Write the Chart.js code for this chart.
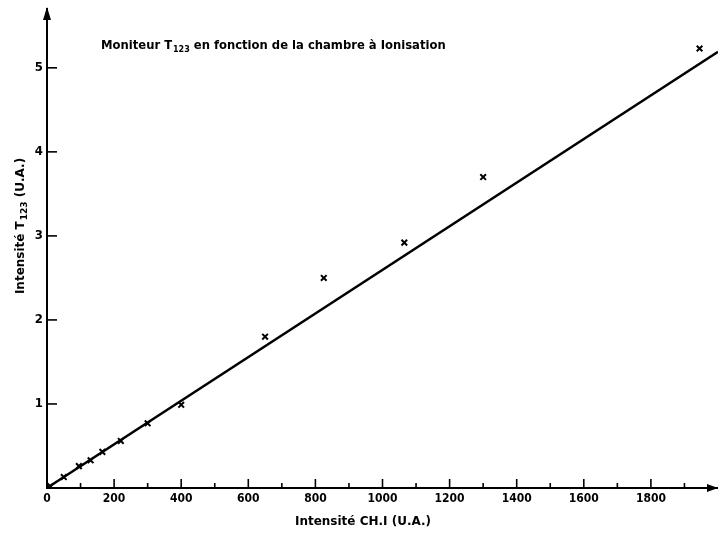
<!DOCTYPE html>
<html><head><meta charset="utf-8">
<script src="https://cdn.jsdelivr.net/npm/chart.js@4/dist/chart.umd.min.js"></script>
<style>html,body{margin:0;padding:0;background:#fff}#wrap{width:718px;height:536px;position:relative}</style>
</head><body><div id="wrap"><canvas id="c"></canvas></div>
<script>
// ---- data ----
const chIntensity   = [10, 50, 95, 130, 165, 220, 300, 400, 650, 825, 1065, 1300, 1945];
const t123Intensity = [0.02, 0.13, 0.26, 0.33, 0.43, 0.56, 0.77, 0.99, 1.80, 2.50, 2.92, 3.70, 5.23];
const fitX = [0, 2000];
const fitY = [0, 5.19];
const xTickLabels = ['0', '200', '400', '600', '800', '1000', '1200', '1400', '1600', '1800'];
const yTickLabels = ['1', '2', '3', '4', '5'];
const titleParts  = ['Moniteur T', '123', ' en fonction de la chambre à Ionisation'];
const xTitleText  = 'Intensité CH.I (U.A.)';
const yTitleParts = ['Intensité T', '123', ' (U.A.)'];

const FONT = '"DejaVu Sans", sans-serif';
const TICKFONT = '"DejaVu Sans Condensed", "DejaVu Sans", sans-serif';

function drawSubText(ctx, parts, x, y, size, weight) {
  ctx.font = weight + ' ' + size + 'px ' + FONT;
  ctx.fillText(parts[0], x, y);
  x += ctx.measureText(parts[0]).width + 1;
  ctx.font = weight + ' ' + Math.round(size * 0.72) + 'px ' + FONT;
  ctx.fillText(parts[1], x, y + 3);
  x += ctx.measureText(parts[1]).width;
  ctx.font = weight + ' ' + size + 'px ' + FONT;
  ctx.fillText(parts[2], x, y);
}
function subTextWidth(ctx, parts, size, weight) {
  ctx.font = weight + ' ' + size + 'px ' + FONT;
  let w = ctx.measureText(parts[0]).width + ctx.measureText(parts[2]).width + 1;
  ctx.font = weight + ' ' + Math.round(size * 0.72) + 'px ' + FONT;
  return w + ctx.measureText(parts[1]).width;
}

const decor = {
  id: 'decor',
  afterDraw(chart) {
    const ctx = chart.ctx, xs = chart.scales.x, ys = chart.scales.y, a = chart.chartArea;
    ctx.save();
    ctx.strokeStyle = '#000'; ctx.fillStyle = '#000'; ctx.lineWidth = 1.6;
    // tick marks (inside the axes)
    xs.ticks.forEach(t => {
      if (t.value <= 0 || t.value >= xs.max) return;
      const px = xs.getPixelForValue(t.value);
      const len = (t.value % 200 === 0) ? 9 : 5;
      ctx.beginPath(); ctx.moveTo(px, a.bottom); ctx.lineTo(px, a.bottom - len); ctx.stroke();
    });
    ys.ticks.forEach(t => {
      if (t.value <= 0 || !yTickLabels.includes(String(t.value))) return;
      const py = ys.getPixelForValue(t.value);
      ctx.beginPath(); ctx.moveTo(a.left, py); ctx.lineTo(a.left + 10, py); ctx.stroke();
    });
    // arrow heads
    ctx.beginPath();
    ctx.moveTo(a.left, a.top - 2); ctx.lineTo(a.left - 4, a.top + 11); ctx.lineTo(a.left + 4, a.top + 11); ctx.closePath(); ctx.fill();
    ctx.beginPath();
    ctx.moveTo(a.right, a.bottom); ctx.lineTo(a.right - 11, a.bottom - 4); ctx.lineTo(a.right - 11, a.bottom + 4); ctx.closePath(); ctx.fill();
    // title
    ctx.textAlign = 'left'; ctx.textBaseline = 'alphabetic';
    drawSubText(ctx, titleParts, 101, 49, 11.6, 'bold');
    // x axis title
    ctx.font = 'bold 12px ' + FONT;
    ctx.textAlign = 'center'; ctx.textBaseline = 'middle';
    ctx.fillText(xTitleText, 363, 522);
    // y axis title
    ctx.translate(20, 226);
    ctx.rotate(-Math.PI / 2);
    const w = subTextWidth(ctx, yTitleParts, 12, 'bold');
    ctx.textAlign = 'left'; ctx.textBaseline = 'alphabetic';
    drawSubText(ctx, yTitleParts, -w / 2, 4, 12, 'bold');
    ctx.restore();
  }
};

function noPad(s) { s.paddingLeft = 0; s.paddingRight = 0; s.paddingTop = 0; s.paddingBottom = 0; }

new Chart(document.getElementById('c'), {
  type: 'scatter',
  data: {
    datasets: [
      {
        type: 'line',
        data: fitX.map((x, i) => ({ x, y: fitY[i] })),
        borderColor: '#000', borderWidth: 2.4, pointRadius: 0, fill: false, tension: 0
      },
      {
        data: chIntensity.map((x, i) => ({ x, y: t123Intensity[i] })),
        pointStyle: 'crossRot', pointRadius: 4, borderWidth: 2,
        borderColor: '#000', backgroundColor: '#000', showLine: false
      }
    ]
  },
  options: {
    responsive: true, maintainAspectRatio: false, animation: false,
    layout: { autoPadding: false, padding: { top: 9, right: 0, left: 0, bottom: 0 } },
    plugins: { legend: { display: false }, tooltip: { enabled: false }, title: { display: false } },
    scales: {
      x: {
        type: 'linear', min: 0, max: 2000,
        afterFit(s) { s.height = 48; noPad(s); },
        grid: { display: false, drawTicks: false },
        border: { display: true, color: '#000', width: 2 },
        ticks: {
          stepSize: 100, autoSkip: false, maxRotation: 0, padding: 4, color: '#000',
          font: { family: TICKFONT, size: 12, weight: 'bold' },
          callback: v => xTickLabels.includes(String(v)) ? String(v) : ''
        }
      },
      y: {
        type: 'linear', min: 0, max: 5.7,
        afterFit(s) { s.width = 47; noPad(s); },
        grid: { display: false, drawTicks: false },
        border: { display: true, color: '#000', width: 2 },
        ticks: {
          stepSize: 1, autoSkip: false, padding: 4, color: '#000',
          font: { family: TICKFONT, size: 13, weight: 'bold' },
          callback: v => yTickLabels.includes(String(v)) ? String(v) : ''
        }
      }
    }
  },
  plugins: [decor]
});
</script></body></html>
